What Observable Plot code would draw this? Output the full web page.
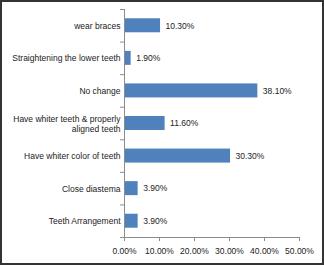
<!DOCTYPE html>
<html>
<head>
<meta charset="utf-8">
<script src="https://cdn.jsdelivr.net/npm/d3@7"></script>
<script src="https://cdn.jsdelivr.net/npm/@observablehq/plot@0.6"></script>
<style>
  html, body { margin: 0; padding: 0; background: #fff; }
  #wrap { position: relative; width: 324px; height: 265px; }
  #frame { position: absolute; left: 0; top: 0; width: 324px; height: 265px; box-sizing: border-box; border: 2px solid #333; pointer-events: none; }
  svg { display: block; }
</style>
</head>
<body>
<div id="wrap"><div id="frame"></div></div>
<script>
const categories = [
  "wear braces",
  "Straightening the lower teeth",
  "No change",
  "Have whiter teeth & properly\naligned teeth",
  "Have whiter color of teeth",
  "Close diastema",
  "Teeth Arrangement"
];
const values = [10.3, 1.9, 38.1, 11.6, 30.3, 3.9, 3.9];
const xTicks = [0, 10, 20, 30, 40, 50];

const idx = categories.map((_, i) => i);
const data = idx.map(i => ({i, category: categories[i], value: values[i]}));
const boundaries = d3.range(-0.5, categories.length, 1);
const half = 0.215;
const axisColor = "#8c8c8c";
const fmt = v => v.toFixed(2) + "%";

const chart = Plot.plot({
  width: 324,
  height: 265,
  marginLeft: 124,
  marginRight: 25,
  marginTop: 9,
  marginBottom: 28,
  style: {fontFamily: "Liberation Sans, Arial, sans-serif", fontSize: "8.5px", color: "#222", background: "transparent"},
  x: {domain: [0, 50], ticks: xTicks, label: null},
  y: {domain: [-0.5, categories.length - 0.5], reverse: true, label: null},
  marks: [
    Plot.rect(data, {x1: () => 0, x2: "value", y1: d => d.i - half, y2: d => d.i + half, fill: "#4f81bd"}),
    Plot.text(data, {x: "value", y: "i", text: d => fmt(d.value), textAnchor: "start", dx: 5, fill: "#222"}),
    Plot.ruleX([0], {stroke: axisColor}),
    Plot.ruleY([categories.length - 0.5], {stroke: axisColor}),
    Plot.axisY(boundaries, {tickSize: 4, tickFormat: () => "", stroke: axisColor, label: null}),
    Plot.axisY(idx, {tickSize: 0, tickPadding: 4, tickFormat: i => categories[i], fill: "#222", lineHeight: 1.15, label: null}),
    Plot.axisX(xTicks, {tickSize: 4, tickPadding: 6, tickFormat: fmt, stroke: axisColor, fill: "#222", label: null})
  ]
});
document.getElementById("wrap").prepend(chart);
</script>
</body>
</html>
